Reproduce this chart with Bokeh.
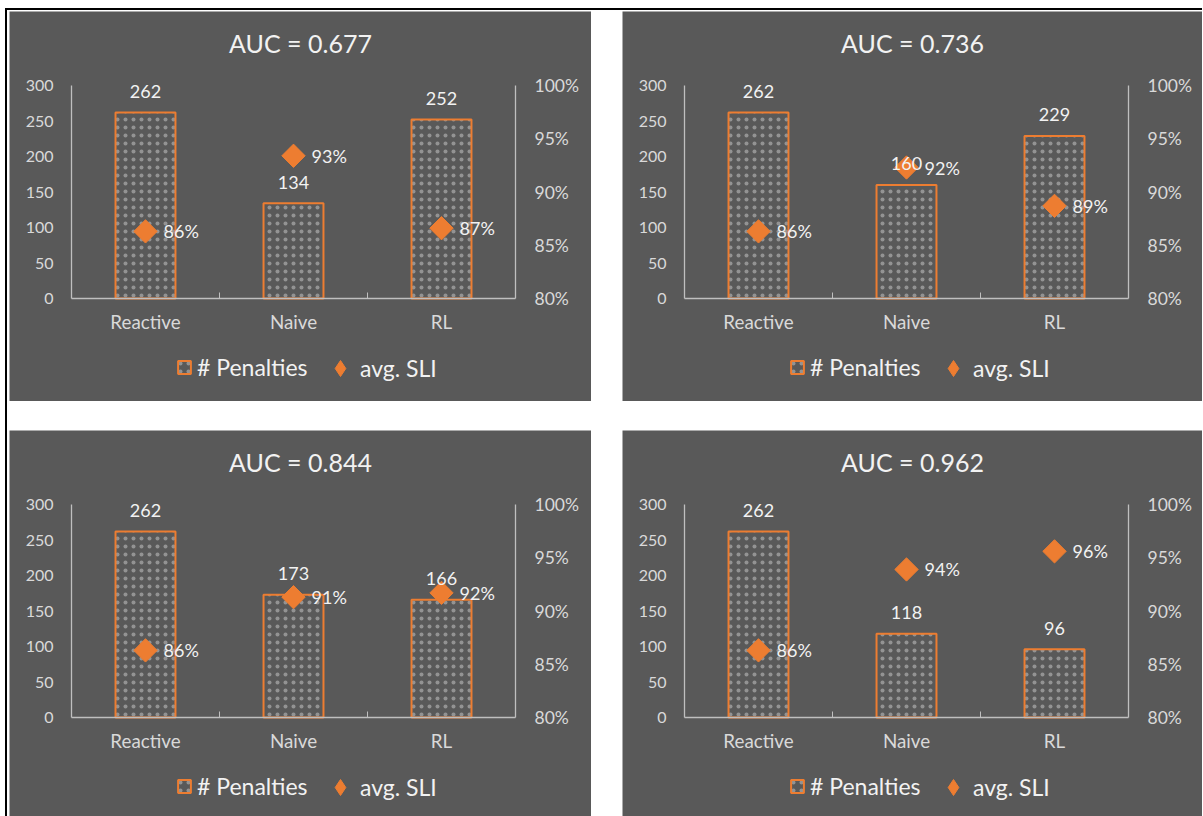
import numpy as np
from bokeh.plotting import figure
from bokeh.models import (Range1d, LinearAxis, FixedTicker, NumeralTickFormatter, Label,
                          LabelSet, Legend, LegendItem, ColumnDataSource)
from bokeh.layouts import row, column
from bokeh.embed import file_html
from bokeh.resources import INLINE
from bokeh.core.properties import value

# ---------------- data ----------------
categories = ["Reactive", "Naive", "RL"]
titles = ["AUC = 0.677", "AUC = 0.736", "AUC = 0.844", "AUC = 0.962"]
penalties_1 = [262, 134, 252]
penalties_2 = [262, 160, 229]
penalties_3 = [262, 173, 166]
penalties_4 = [262, 118, 96]
sli_1 = [0.863, 0.934, 0.866]
sli_2 = [0.863, 0.923, 0.887]
sli_3 = [0.863, 0.913, 0.917]
sli_4 = [0.863, 0.939, 0.956]
left_ticks = [0, 50, 100, 150, 200, 250, 300]
right_ticks = [0.80, 0.85, 0.90, 0.95, 1.00]
series_names = ["# Penalties", "avg. SLI"]

# ---------------- style ----------------
BG = "#595959"
ORANGE = "#ED7D31"
TXT = "#D9D9D9"
TXT_HI = "#F2F2F2"
AX = "#BFBFBF"
FONT = "Lato"

# plot area inside each panel (pixels): left, top, width, height
FL, FT, FW, FH = 62, 74, 444, 213


def make_panel(title, pen, sli, width, height):
    n = len(categories)
    xs = [i + 0.5 for i in range(n)]
    src = ColumnDataSource(dict(
        x=xs, pen=pen, sli=sli,
        pen_txt=[str(v) for v in pen],
        sli_txt=[f"{v:.0%}" for v in sli],
    ))
    bottom_gap = height - FT - FH
    right_gap = width - FL - FW
    ux = FW / n
    y0, y1 = left_ticks[0], left_ticks[-1]
    uy = FH / (y1 - y0)
    q0, q1 = right_ticks[0], right_ticks[-1]
    uq = FH / (q1 - q0)

    # the frame covers the whole panel; axes are pinned inside it
    p = figure(width=width, height=height, title=None,
               x_range=Range1d(-FL / ux, n + right_gap / ux),
               y_range=Range1d(y0 - bottom_gap / uy, y1 + FT / uy),
               output_backend="svg", toolbar_location=None,
               x_axis_type=None, y_axis_type=None,
               min_border_left=0, min_border_right=0,
               min_border_top=0, min_border_bottom=0,
               background_fill_color=BG, border_fill_color=BG,
               outline_line_color=None)
    p.xgrid.visible = False
    p.ygrid.visible = False
    p.extra_y_ranges = {"pct": Range1d(q0 - bottom_gap / uq, q1 + FT / uq)}

    def style_axis(ax, size):
        ax.axis_line_color = AX
        ax.axis_line_width = 1.3
        ax.major_tick_line_color = None
        ax.minor_tick_line_color = None
        ax.major_tick_out = 0
        ax.major_tick_in = 0
        ax.minor_tick_out = 0
        ax.minor_tick_in = 0
        ax.major_label_text_color = TXT
        ax.major_label_text_font = FONT
        ax.major_label_text_font_size = size

    yl = LinearAxis(ticker=FixedTicker(ticks=left_ticks), fixed_location=0,
                    bounds=(y0, y1))
    style_axis(yl, "16px")
    yl.major_label_standoff = 18
    p.add_layout(yl, "left")

    yr = LinearAxis(y_range_name="pct", ticker=FixedTicker(ticks=right_ticks),
                    formatter=NumeralTickFormatter(format="0%"), fixed_location=n,
                    bounds=(q0, q1))
    style_axis(yr, "17.5px")
    yr.major_label_standoff = 19
    p.add_layout(yr, "right")

    xb = LinearAxis(ticker=FixedTicker(ticks=xs, minor_ticks=list(range(1, n))),
                    major_label_overrides={x: c for x, c in zip(xs, categories)},
                    fixed_location=y0, bounds=(0, n))
    style_axis(xb, "18.8px")
    xb.minor_tick_line_color = AX
    xb.minor_tick_in = 6
    xb.major_label_standoff = 11
    p.add_layout(xb, "below")

    r_bar = p.vbar(x="x", top="pen", bottom=0, width=0.405, source=src,
                   fill_color=BG, line_color=ORANGE, line_width=2,
                   hatch_pattern="dot", hatch_color="#D9D9D9", hatch_scale=8,
                   hatch_weight=1, hatch_alpha=0.45)
    p.scatter(x="x", y="sli", y_range_name="pct", source=src,
              marker="square", angle=np.pi / 4, size=16.5,
              fill_color=ORANGE, line_color=ORANGE)
    # hidden twin of the SLI markers, used only for the legend swatch
    # (legend markers are never rotated, so a diamond marker is used here)
    r_leg = p.scatter(x="x", y="sli", y_range_name="pct", source=src,
                      marker="diamond", fill_color=ORANGE, line_color=ORANGE,
                      visible=False)

    p.add_layout(LabelSet(x="x", y="pen", text="pen_txt", source=src,
                          y_offset=21, text_align="center", text_baseline="middle",
                          text_color=TXT_HI, text_font=value(FONT),
                          text_font_size="18px"))
    p.add_layout(LabelSet(x="x", y="sli", y_range_name="pct", text="sli_txt",
                          source=src, x_offset=18, text_align="left",
                          text_baseline="middle", text_color=TXT_HI,
                          text_font=value(FONT), text_font_size="18px"))

    p.add_layout(Label(x=width / 2, y=height - 31, x_units="screen", y_units="screen",
                       text=title, text_align="center", text_baseline="middle",
                       text_color=TXT_HI, text_font=FONT, text_font_size="25px"))

    common = dict(orientation="horizontal", background_fill_alpha=0,
                  border_line_color=None, label_text_color=TXT_HI,
                  label_text_font=FONT, label_text_font_size="23px",
                  padding=0, margin=0, inactive_fill_alpha=0)
    leg_a = Legend(items=[LegendItem(label=series_names[0], renderers=[r_bar])],
                   location=(167, height - 369.5), glyph_width=16, glyph_height=16,
                   label_standoff=5, **common)
    leg_b = Legend(items=[LegendItem(label=series_names[1], renderers=[r_leg])],
                   location=(311, height - 377), glyph_width=40, glyph_height=40,
                   label_standoff=0, **common)
    p.add_layout(leg_a, "center")
    p.add_layout(leg_b, "center")
    return p


p1 = make_panel(titles[0], penalties_1, sli_1, 582, 390)
p2 = make_panel(titles[1], penalties_2, sli_2, 580, 390)
p3 = make_panel(titles[2], penalties_3, sli_3, 582, 386)
p4 = make_panel(titles[3], penalties_4, sli_4, 580, 386)

layout = column(row(p1, p2, spacing=31), row(p3, p4, spacing=31),
                spacing=29, margin=(8, 0, 0, 5),
                styles={"border-top": "2px solid #000", "border-left": "2px solid #000",
                        "padding": "1px 0 0 2px"})

open("out.html", "w").write(file_html(layout, INLINE))
